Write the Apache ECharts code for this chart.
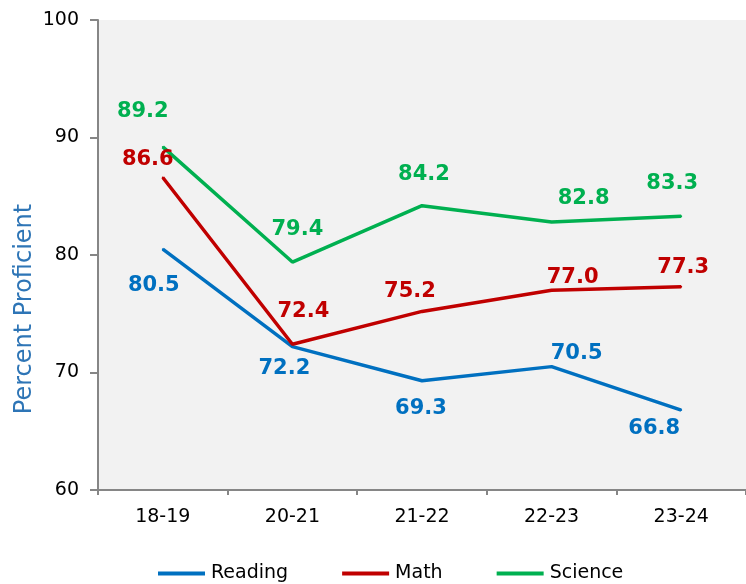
<!DOCTYPE html>
<html>
<head>
<meta charset="utf-8">
<script src="https://cdn.jsdelivr.net/npm/echarts@6/dist/echarts.min.js"></script>
<style>
html,body{margin:0;padding:0;background:#fff;}
#chart{width:746px;height:584px;}
</style>
</head>
<body>
<div id="chart"></div>
<script>
var categories = ['18-19', '20-21', '21-22', '22-23', '23-24'];
var reading = [80.5, 72.2, 69.3, 70.5, 66.8];
var math = [86.6, 72.4, 75.2, 77.0, 77.3];
var science = [89.2, 79.4, 84.2, 82.8, 83.3];
var yTicks = [60, 70, 80, 90, 100];

// label offsets (layout only), relative to each point
var readingOff = [[-9, 36], [-8, 22], [-1, 28], [25, -13], [-27, 18]];
var mathOff = [[-15, -18], [11, -33], [-12, -20], [21, -13], [2, -19]];
var scienceOff = [[-20, -35], [5, -33], [2, -31], [32, -24], [-9, -33]];

var FONT = 'DejaVu Sans';

function makeSeries(name, values, offs, color) {
  return {
    name: name,
    type: 'line',
    symbol: 'circle',
    symbolSize: 2,
    showSymbol: true,
    lineStyle: { color: color, width: 3.5 },
    itemStyle: { color: color },
    emphasis: { disabled: true },
    data: values.map(function (v, i) {
      return {
        value: v,
        label: { offset: offs[i] }
      };
    }),
    label: {
      show: true,
      position: 'inside',
      align: 'center',
      verticalAlign: 'middle',
      color: color,
      fontFamily: FONT,
      fontWeight: 'bold',
      fontSize: 21,
      formatter: function (p) { return p.value.toFixed(1); }
    }
  };
}

var chart = echarts.init(document.getElementById('chart'), null, { renderer: 'canvas' });
chart.setOption({
  animation: false,
  grid: {
    left: 98, right: -3, top: 20, bottom: 94,
    show: true, backgroundColor: '#f2f2f2', borderWidth: 0
  },
  legend: {
    left: 158, bottom: 1, padding: 0,
    itemWidth: 47, itemHeight: 4, itemGap: 54,
    icon: 'rect',
    textStyle: { fontFamily: FONT, fontSize: 19, color: '#000', padding: [0, 0, 0, 1] },
    data: ['Reading', 'Math', 'Science']
  },
  xAxis: {
    type: 'category',
    data: categories,
    boundaryGap: true,
    axisLine: { lineStyle: { color: '#868686', width: 2 } },
    axisTick: { show: true, length: 5, lineStyle: { color: '#868686', width: 2 } },
    axisLabel: { fontFamily: FONT, fontSize: 19, color: '#000', margin: 18 },
    splitLine: { show: false }
  },
  yAxis: {
    type: 'value',
    min: yTicks[0], max: yTicks[yTicks.length - 1], interval: 10,
    axisLine: { show: true, lineStyle: { color: '#868686', width: 2 } },
    axisTick: { show: true, inside: false, length: 8, lineStyle: { color: '#868686', width: 2 } },
    axisLabel: { fontFamily: FONT, fontSize: 19, color: '#000', margin: 19 },
    splitLine: { show: false }
  },
  graphic: [{
    type: 'text',
    x: 25, y: 309,
    rotation: Math.PI / 2,
    style: {
      text: 'Percent Proficient',
      fill: '#2e75b6',
      font: '24px "DejaVu Sans"',
      textAlign: 'center',
      textVerticalAlign: 'middle'
    }
  }],
  series: [
    makeSeries('Reading', reading, readingOff, '#0070c0'),
    makeSeries('Math', math, mathOff, '#c00000'),
    makeSeries('Science', science, scienceOff, '#00b050')
  ]
});
</script>
</body>
</html>
